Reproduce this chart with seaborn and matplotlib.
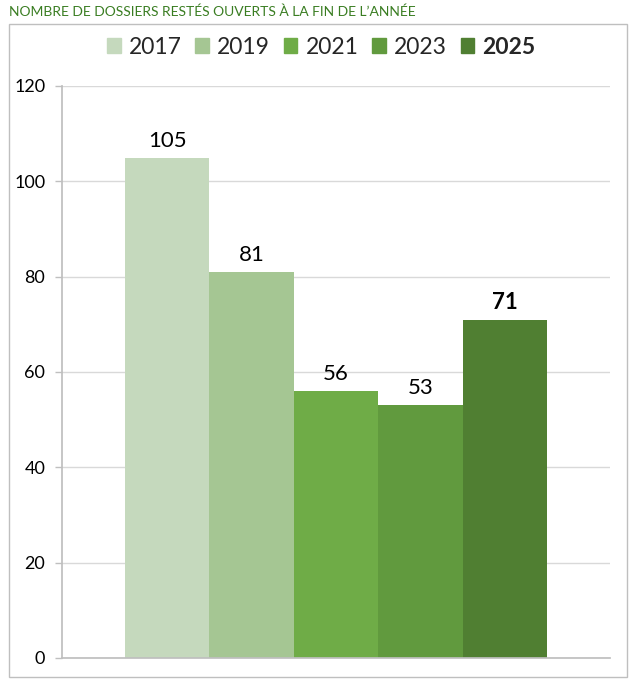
import matplotlib
matplotlib.use("Agg")
import matplotlib.pyplot as plt
import matplotlib.patches as mpatches
import seaborn as sns
import pandas as pd

years = ["2017", "2019", "2021", "2023", "2025"]
values = [105, 81, 56, 53, 71]
colors = ["#c5d9bd", "#a5c693", "#6fac47", "#619a3e", "#507f32"]
title = "NOMBRE DE DOSSIERS RESTÉS OUVERTS À LA FIN DE L’ANNÉE"

sns.set_theme(style="white")
plt.rcParams["font.family"] = ["Lato", "DejaVu Sans"]

df = pd.DataFrame({"cat": ["x"] * len(years), "year": years, "value": values})

fig = plt.figure(figsize=(6.36, 6.91), dpi=100)
ax = fig.add_axes([62 / 636, 1 - 658 / 691, (610 - 62) / 636, (658 - 86) / 691])

sns.barplot(data=df, x="cat", y="value", hue="year", palette=colors,
            saturation=1, width=0.77, gap=0, dodge=True, ax=ax, legend=False,
            edgecolor="none", linewidth=0)

ax.set_xlim(-0.5, 0.5)
ax.set_ylim(0, 120)
ax.set_yticks(range(0, 121, 20))
ax.yaxis.grid(True, color="#d9d9d9", linewidth=1)
ax.set_axisbelow(True)
ax.set_xlabel("")
ax.set_ylabel("")
ax.set_xticks([])
ax.set_xticks([-0.5, 0.5], minor=True)
ax.tick_params(axis="x", which="minor", length=5, color="#bfbfbf", width=1, direction="out")
ax.tick_params(axis="y", length=5, color="#bfbfbf", width=1, labelsize=13, labelcolor="#000000", pad=7, left=True)
for s in ["top", "right"]:
    ax.spines[s].set_visible(False)
ax.spines["left"].set_color("#bfbfbf")
ax.spines["bottom"].set_color("#bfbfbf")

for i, cont in enumerate(ax.containers):
    ax.bar_label(cont, labels=[str(values[i])], padding=5, fontsize=16,
                 fontweight="bold" if years[i] == "2025" else "normal", color="#000000")

handles = [mpatches.Patch(color=c, label=y) for c, y in zip(colors, years)]
leg = fig.legend(handles=handles, loc="center", bbox_to_anchor=(0.505, 1 - 47 / 691),
                 ncol=5, frameon=False, fontsize=16.5, handlelength=0.6, handleheight=0.6,
                 handletextpad=0.35, columnspacing=0.6)
for t in leg.get_texts():
    if t.get_text() == "2025":
        t.set_fontweight("bold")

fig.add_artist(mpatches.Rectangle((9 / 636, 1 - 677 / 691), (627 - 9) / 636, (677 - 24) / 691,
                                  transform=fig.transFigure, fill=False, edgecolor="#bfbfbf", linewidth=1))
fig.text(9 / 636, 1 - 12 / 691, title, fontsize=10, color="#3a7d22", va="center", ha="left")

fig.savefig("out.png", dpi=100)
